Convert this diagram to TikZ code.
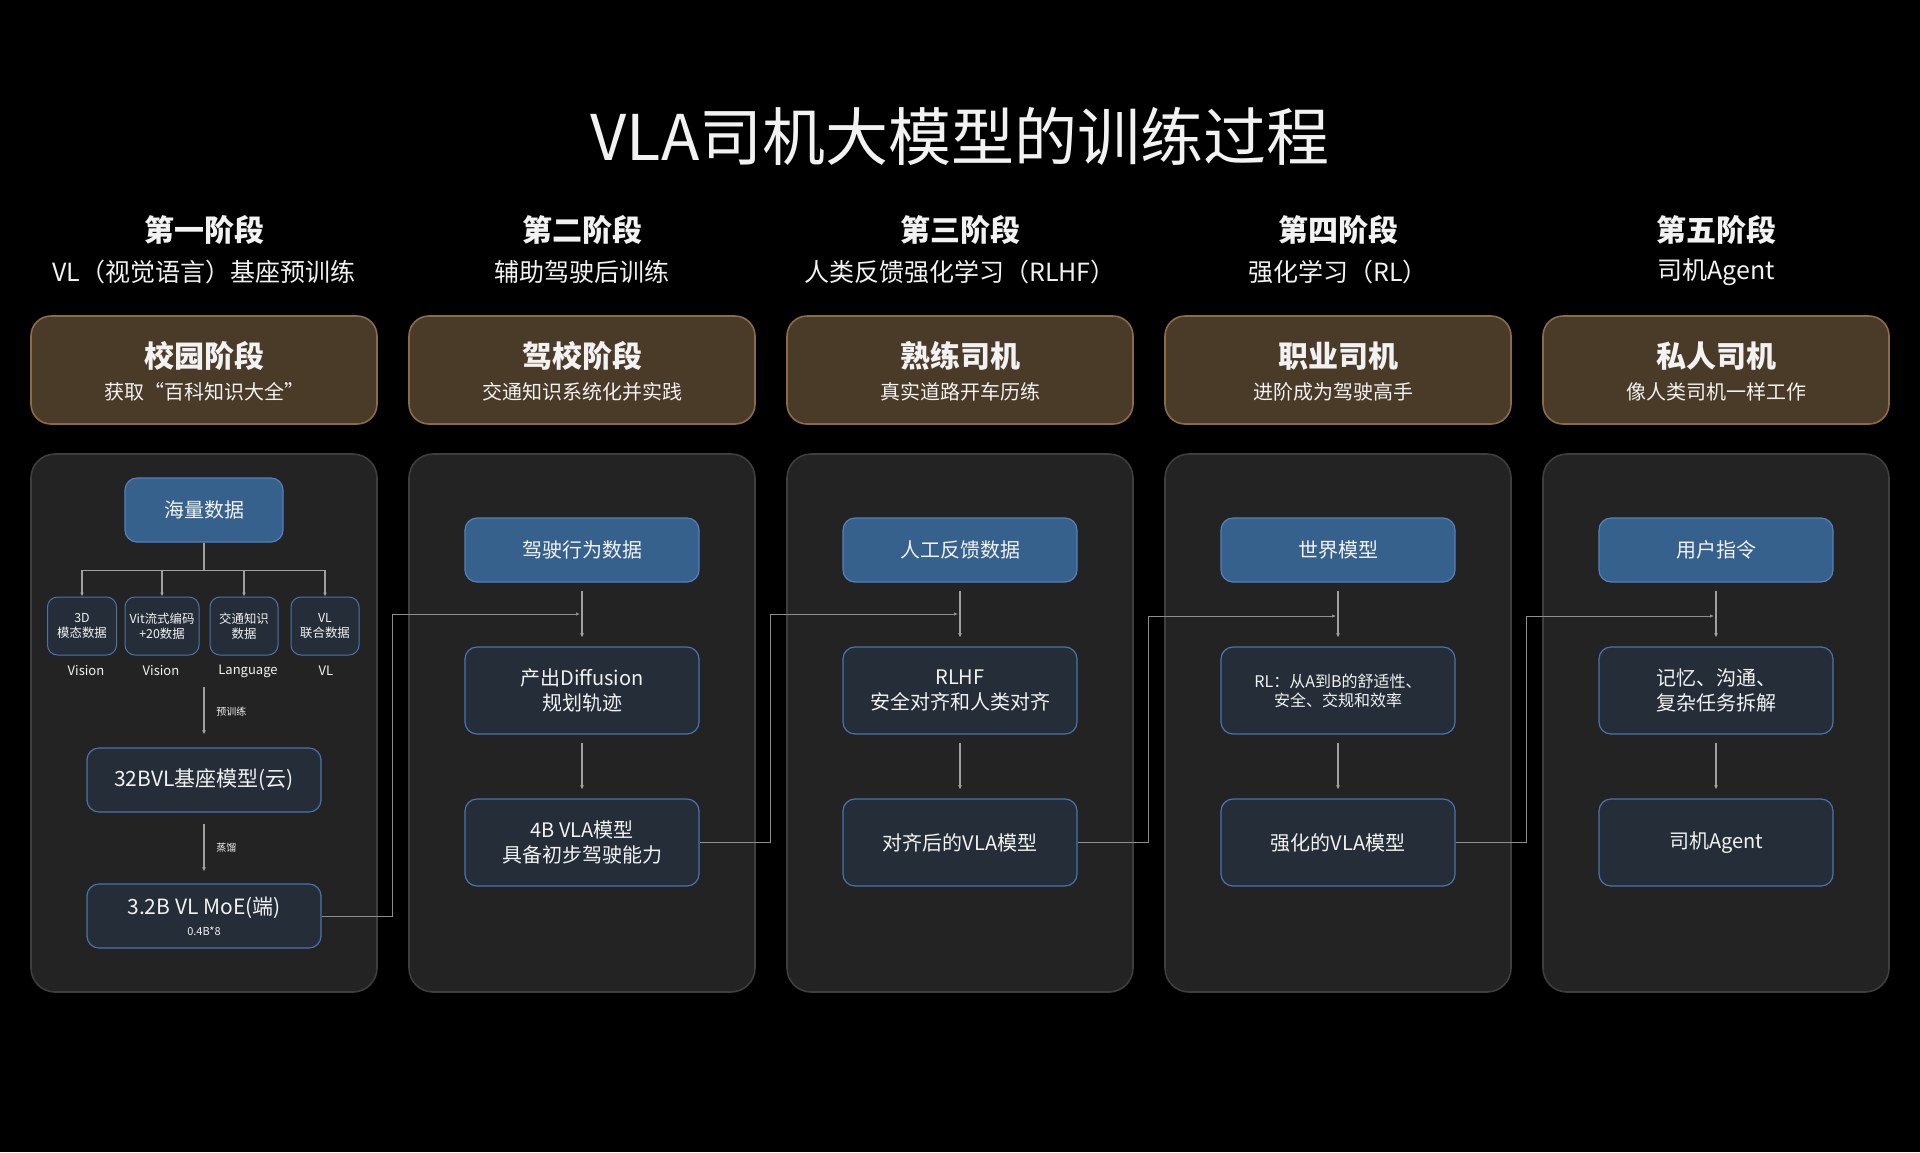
\documentclass[tikz,border=0pt]{standalone}
\usepackage{fontspec}
\setmainfont{Noto Sans CJK SC}
\usetikzlibrary{arrows.meta}

\definecolor{panelbg}{HTML}{232323}
\definecolor{panelline}{HTML}{3E3E3E}
\definecolor{brownbg}{HTML}{4A3A28}
\definecolor{brownline}{HTML}{8C6C46}
\definecolor{bluebg}{HTML}{36618C}
\definecolor{blueline}{HTML}{5580BC}
\definecolor{darkbg}{HTML}{242D38}
\definecolor{darkline}{HTML}{4A74AD}
\definecolor{arrowgray}{HTML}{A0A0A0}
\definecolor{linkgray}{HTML}{8E8E8E}
\definecolor{txt}{HTML}{F2F2F2}

\begin{document}
\begin{tikzpicture}[x=0.5pt, y=-0.5pt, text=txt,
    panel/.style={draw=panelline, fill=panelbg, line width=0.8pt, rounded corners=12pt},
    stagebox/.style={draw=brownline, fill=brownbg, line width=0.8pt, rounded corners=10pt},
    datbox/.style={draw=blueline, fill=bluebg, line width=0.6pt, rounded corners=6pt,
        minimum width=117pt, minimum height=32pt, inner sep=0pt, align=center,
        font=\fontsize{10}{12.5}\selectfont},
    modbox/.style={draw=darkline, fill=darkbg, line width=0.6pt, rounded corners=6pt,
        minimum width=117pt, minimum height=43.5pt, inner sep=0pt, align=center,
        font=\fontsize{10}{12.5}\selectfont},
    srcbox/.style={draw=darkline, fill=darkbg, line width=0.5pt, rounded corners=5pt,
        minimum height=29pt, inner sep=0pt, align=center,
        font=\fontsize{6.2}{7.5}\selectfont},
    stagehead/.style={font=\fontsize{15}{18}\selectfont\bfseries},
    stagesub/.style={font=\fontsize{12.5}{15}\selectfont},
    boxhead/.style={font=\fontsize{15}{18}\selectfont\bfseries},
    boxsub/.style={font=\fontsize{10}{12}\selectfont},
    tag/.style={font=\fontsize{6.5}{8}\selectfont},
    note/.style={font=\fontsize{5}{6}\selectfont, anchor=west, inner sep=0pt},
    flow/.style={draw=arrowgray, line width=0.6pt, -{Latex[length=2pt,width=2pt]}},
    link/.style={draw=linkgray, line width=0.5pt, -{Latex[length=2pt,width=1.8pt]}}]

    % background and frame
    \fill[black] (0,0) rectangle (1920,1152);
    \node[font=\fontsize{31.5}{36}\selectfont] (title) at (960,136) {VLA司机大模型的训练过程};

    % stage headings
    \node[stagehead] (h1) at (204,230)  {第一阶段};
    \node[stagesub]  (t1) at (204,272)  {VL（视觉语言）基座预训练};
    \node[stagehead] (h2) at (582,230)  {第二阶段};
    \node[stagesub]  (t2) at (582,272)  {辅助驾驶后训练};
    \node[stagehead] (h3) at (960,230)  {第三阶段};
    \node[stagesub]  (t3) at (960,272)  {人类反馈强化学习（RLHF）};
    \node[stagehead] (h4) at (1338,230) {第四阶段};
    \node[stagesub]  (t4) at (1338,272) {强化学习（RL）};
    \node[stagehead] (h5) at (1716,230) {第五阶段};
    \node[stagesub]  (t5) at (1716,272) {司机Agent};

    % brown stage boxes
    \draw[stagebox] (31,316)   rectangle (377,424);
    \draw[stagebox] (409,316)  rectangle (755,424);
    \draw[stagebox] (787,316)  rectangle (1133,424);
    \draw[stagebox] (1165,316) rectangle (1511,424);
    \draw[stagebox] (1543,316) rectangle (1889,424);
    \node[boxhead] (b1) at (204,356)  {校园阶段};
    \node[boxsub]  (b1s) at (204,392) {获取“百科知识大全”};
    \node[boxhead] (b2) at (582,356)  {驾校阶段};
    \node[boxsub]  (b2s) at (582,392) {交通知识系统化并实践};
    \node[boxhead] (b3) at (960,356)  {熟练司机};
    \node[boxsub]  (b3s) at (960,392) {真实道路开车历练};
    \node[boxhead] (b4) at (1338,356) {职业司机};
    \node[boxsub]  (b4s) at (1333,392) {进阶成为驾驶高手};
    \node[boxhead] (b5) at (1716,356) {私人司机};
    \node[boxsub]  (b5s) at (1716,392) {像人类司机一样工作};

    % panels
    \draw[panel] (31,454)   rectangle (377,992);
    \draw[panel] (409,454)  rectangle (755,992);
    \draw[panel] (787,454)  rectangle (1133,992);
    \draw[panel] (1165,454) rectangle (1511,992);
    \draw[panel] (1543,454) rectangle (1889,992);

    % stage 1: pretraining
    \node[datbox, minimum width=79pt] (hl) at (204,510) {海量数据};
    \node[srcbox, minimum width=34.5pt] (d3)   at (82,626)  {3D\\模态数据};
    \node[srcbox, minimum width=37pt]   (dvit) at (162,626) {Vit流式编码\\+20数据};
    \node[srcbox, minimum width=34pt]   (dtr)  at (244,626) {交通知识\\数据};
    \node[srcbox, minimum width=34pt]   (dvl)  at (325,626) {VL\\联合数据};
    \node[tag] (lv1)   at (86,671)  {Vision};
    \node[tag] (lv2)   at (161,671) {Vision};
    \node[tag] (llang) at (248,671) {Language};
    \node[tag] (lvl)   at (326,671) {VL};
    \draw[flow] (hl.south) -- ++(0,28) -| (d3.north);
    \draw[flow] (hl.south) -- ++(0,28) -| (dvit.north);
    \draw[flow] (hl.south) -- ++(0,28) -| (dtr.north);
    \draw[flow] (hl.south) -- ++(0,28) -| (dvl.north);

    \node[datbox, fill=darkbg, draw=darkline, font=\fontsize{10.5}{13}\selectfont] (base) at (204,780) {32BVL基座模型(云)};
    \node[datbox, fill=darkbg, draw=darkline, font=\fontsize{10.5}{10.5}\selectfont] (moe) at (204,916)
        {3.2B VL MoE(端)\\{\fontsize{5.5}{6}\selectfont 0.4B*8}};
    \coordinate (pre) at (204,687);
    \draw[flow, shorten >=6.5pt] (pre) -- (base.north);
    \node[note] (lpre) at (216,712) {预训练};
    \draw[flow, shorten <=5.5pt, shorten >=6pt] (base.south) -- (moe.north);
    \node[note] (ldist) at (216,848) {蒸馏};

    % stage 2
    \node[datbox] (drv)  at (582,550)   {驾驶行为数据};
    \node[modbox] (diff) at (582,690.5) {产出Diffusion\\规划轨迹};
    \node[modbox] (vla4) at (582,842.5) {4B VLA模型\\具备初步驾驶能力};
    \draw[flow, shorten <=4pt, shorten >=4.5pt] (drv.south) -- (diff.north);
    \draw[flow, shorten <=4pt, shorten >=4.5pt] (diff.south) -- (vla4.north);

    % stage 3
    \node[datbox] (fb)      at (960,550)   {人工反馈数据};
    \node[modbox] (rlhf)    at (960,690.5) {RLHF\\安全对齐和人类对齐};
    \node[modbox] (aligned) at (960,842.5) {对齐后的VLA模型};
    \draw[flow, shorten <=4pt, shorten >=4.5pt] (fb.south) -- (rlhf.north);
    \draw[flow, shorten <=4pt, shorten >=4.5pt] (rlhf.south) -- (aligned.north);

    % stage 4
    \node[datbox] (wm)    at (1338,550)   {世界模型};
    \node[modbox, font=\fontsize{8}{9.5}\selectfont] (rl) at (1338,690.5) {RL：从A到B的舒适性、\\安全、交规和效率};
    \node[modbox] (rlvla) at (1338,842.5) {强化的VLA模型};
    \draw[flow, shorten <=4pt, shorten >=4.5pt] (wm.south) -- (rl.north);
    \draw[flow, shorten <=4pt, shorten >=4.5pt] (rl.south) -- (rlvla.north);

    % stage 5
    \node[datbox] (cmd)   at (1716,550)   {用户指令};
    \node[modbox] (mem)   at (1716,690.5) {记忆、沟通、\\复杂任务拆解};
    \node[modbox] (agent) at (1716,842.5) {司机Agent};
    \draw[flow, shorten <=4pt, shorten >=4.5pt] (cmd.south) -- (mem.north);
    \draw[flow, shorten <=4pt, shorten >=4.5pt] (mem.south) -- (agent.north);

    % hand-over between stages
    \coordinate (in2) at (580,614);
    \coordinate (in3) at (958,614);
    \coordinate (in4) at (1336,616);
    \coordinate (in5) at (1714,616);
    \draw[link] (moe.east)     -- ++(71,0) |- (in2);
    \draw[link] (vla4.east)    -- ++(71,0) |- (in3);
    \draw[link] (aligned.east) -- ++(71,0) |- (in4);
    \draw[link] (rlvla.east)   -- ++(71,0) |- (in5);
\end{tikzpicture}
\end{document}
